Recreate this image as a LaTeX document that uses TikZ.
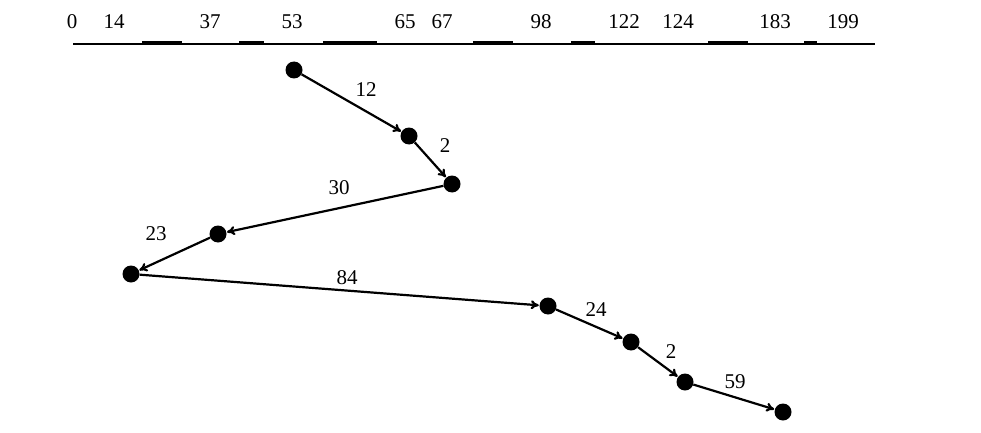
\documentclass[tikz,border=0pt]{standalone}
\usepackage{fontspec}
\setmainfont{Liberation Serif}
\usetikzlibrary{arrows.meta}
\begin{document}
\begin{tikzpicture}[x=1pt,y=-1pt,
  dot/.style={circle,fill=black,inner sep=0pt,minimum size=17pt},
  num/.style={font=\fontsize{21}{24}\selectfont,inner sep=0pt},
  edge/.style={line width=2.2pt,-{To[length=8pt,width=9pt]},shorten >=0.5pt},
  thick seg/.style={line width=3.5pt}]
\useasboundingbox (0,0) rectangle (981,433);
% axis
\coordinate (a0) at (73,44);
\coordinate (a1) at (875,44);
\draw[line width=2.4pt] (a0) -- (a1);
\foreach \s/\e in {142/182,239/264,323/377,473/513,571/595,708/748,804/817}
  \draw[thick seg] (\s,42.5) -- (\e,42.5);
% axis labels
\foreach \x/\t in {72/0,114/14,210/37,292/53,405/65,442/67,541/98,624/122,678/124,775/183,843/199}
  \node[num] (l\t) at (\x,22) {\t};
% nodes
\node[dot] (n53) at (294,70) {};
\node[dot] (n65) at (409,136) {};
\node[dot] (n67) at (452,184) {};
\node[dot] (n37) at (218,234) {};
\node[dot] (n14) at (131,274) {};
\node[dot] (n98) at (548,306) {};
\node[dot] (n122) at (631,342) {};
\node[dot] (n124) at (685,382) {};
\node[dot] (n183) at (783,412) {};
% edges
\draw[edge] (n53) -- (n65);
\draw[edge] (n65) -- (n67);
\draw[edge] (n67) -- (n37);
\draw[edge] (n37) -- (n14);
\draw[edge] (n14) -- (n98);
\draw[edge] (n98) -- (n122);
\draw[edge] (n122) -- (n124);
\draw[edge] (n124) -- (n183);
% edge labels
\node[num] (e1) at (366,90) {12};
\node[num] (e2) at (445,146) {2};
\node[num] (e3) at (339,188) {30};
\node[num] (e4) at (156,234) {23};
\node[num] (e5) at (347,278) {84};
\node[num] (e6) at (596,310) {24};
\node[num] (e7) at (671,352) {2};
\node[num] (e8) at (735,382) {59};
\end{tikzpicture}
\end{document}
